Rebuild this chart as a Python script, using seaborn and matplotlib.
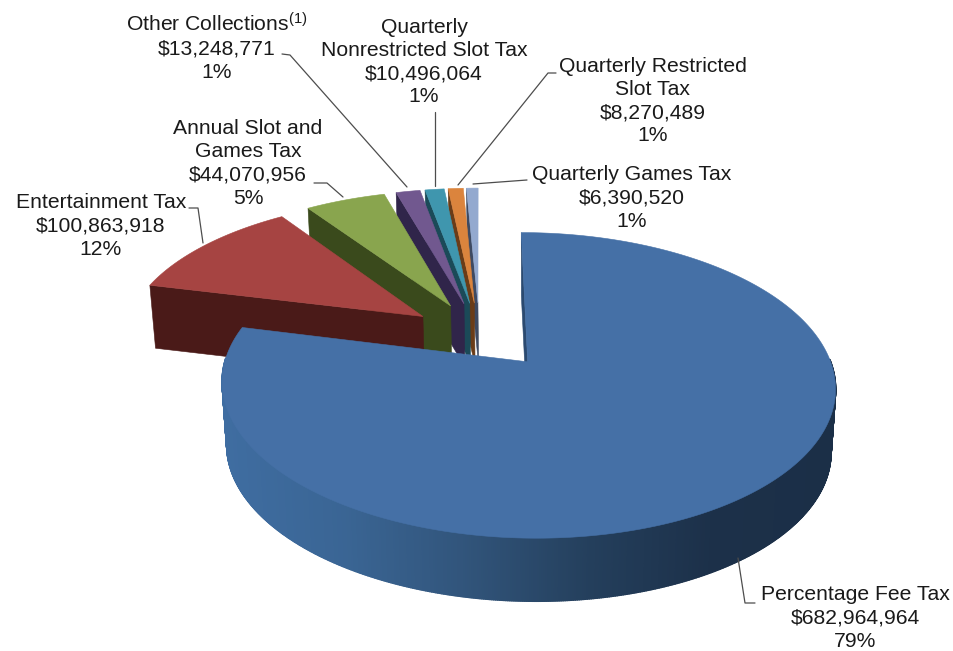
import numpy as np
import matplotlib
matplotlib.use("Agg")
import matplotlib.pyplot as plt
from matplotlib.patches import Polygon
from matplotlib.collections import PolyCollection
import seaborn as sns

# Gaming tax collections by category, in dollars, clockwise from twelve o'clock
categories = ["Percentage Fee Tax", "Entertainment Tax", "Annual Slot and\nGames Tax",
              "Other Collections$^{(1)}$", "Quarterly\nNonrestricted Slot Tax",
              "Quarterly Restricted\nSlot Tax", "Quarterly Games Tax"]
collections = [682964964, 100863918, 44070956, 13248771, 10496064, 8270489, 6390520]
percent_labels = ["79%", "12%", "5%", "1%", "1%", "1%", "1%"]

top_colors = ["#4570a6", "#a64442", "#89a54e", "#71588f", "#3f96ae", "#db843d", "#93a9cf"]
wall_colors = ["#2b4a70", "#4a1a18", "#3a4a1c", "#30254a", "#1b4a58", "#6a3c18", "#3e4a62"]

# Camera model for the tilted disc: centre, radii, perspective strength, rim depth
CX, CY, RX, RY, K, DEPTH = 479.5, 335.0, 299.0, 141.0, 0.15, 63.0
EXPLODE = 0.235
# The lower rim sits farther from the camera, so it narrows slightly about this axis
BASE_NARROWING, BASE_AXIS = 0.985, 528.0
# Horizontal offset and width of each slice relative to the camera radius
explode_u = [0.254, 0.235, 0.235, 0.235, 0.235, 0.235, 0.235]
width_u = [0.985, 1, 1, 1, 1, 1, 1]

sns.set_theme(style="white")
plt.rcParams["font.family"] = ["Liberation Sans", "DejaVu Sans"]
plt.rcParams["mathtext.fontset"] = "custom"
plt.rcParams["mathtext.rm"] = "Liberation Sans"
plt.rcParams["mathtext.default"] = "regular"

fig, ax = plt.subplots(figsize=(9.54, 6.51), dpi=100)
ax.set_position([0, 0, 1, 1])
ax.set_xlim(0, 954)
ax.set_ylim(651, 0)
ax.axis("off")


def project(u, v, lower=False):
    """Map disc coordinates (v towards the back) to canvas coordinates."""
    w = 1 + K * v
    x = CX + RX * u / w
    y = CY - RY * v / w
    if lower:
        x = BASE_AXIS + (x - BASE_AXIS) * BASE_NARROWING
        y = y + DEPTH
    return np.column_stack([x, y])


shares = np.array(collections) / sum(collections) * 360
ends = np.cumsum(shares)
starts = ends - shares
front_shade = sns.blend_palette(["#3f6da1", "#3a6594", "#31547a", "#243f5c", "#1c3049", "#1b2f47"], 256)

# Paint from the back of the stack to the front, so the large slice goes last
for i in range(len(collections) - 1, -1, -1):
    a0, a1 = np.radians(starts[i]), np.radians(ends[i])
    mid = (a0 + a1) / 2
    ou, ov = explode_u[i] * np.sin(mid), EXPLODE * np.cos(mid)
    ang = np.linspace(a0, a1, max(int(shares[i] * 3), 6))
    u, v = ou + width_u[i] * np.sin(ang), ov + np.cos(ang)
    rim_top = project(u, v)
    rim_low = project(u, v, lower=True)
    apex_top = project(np.array([ou]), np.array([ov]))
    apex_low = project(np.array([ou]), np.array([ov]), lower=True)

    # Radial wall on the leading edge of the slice
    ax.add_patch(Polygon(np.vstack([apex_top, rim_top[:1], rim_low[:1], apex_low]),
                         closed=True, fc=wall_colors[i], ec=wall_colors[i], lw=0.4, zorder=2 + (6 - i) * 3))

    # Outer rim, front half only, shaded facet by facet along its sweep
    facets, shades = [], []
    for j in range(len(ang) - 1):
        if np.cos(ang[j]) > 0.02:
            continue
        facets.append(np.vstack([rim_top[j], rim_top[j + 1], rim_low[j + 1], rim_low[j]]))
        s = np.clip((rim_top[j, 0] - 221) / (836 - 221), 0, 1)
        shades.append(front_shade[int(s * 255)])
    if facets:
        ax.add_collection(PolyCollection(facets, facecolors=shades, edgecolors=shades, linewidths=1.2,
                                         zorder=3 + (6 - i) * 3))

    ax.add_patch(Polygon(np.vstack([apex_top, rim_top]), closed=True, fc=top_colors[i],
                         ec=top_colors[i], lw=0.4, zorder=4 + (6 - i) * 3))

# Label blocks: category, dollars and share, stacked and centred
label_anchor = [(855, 618), (101, 226), (248, 163.5), (217, 47), (424, 62), (653, 101), (632, 198)]
for name, amount, pct, (x, y) in zip(categories, collections, percent_labels, label_anchor):
    ax.text(x, y, f"{name}\n\\${amount:,}\n{pct}", ha="center", va="center", fontsize=15.2,
            color="#1a1a1a", linespacing=1.27, zorder=40)

# Leader lines between labels and slices
leaders = [[(738, 558), (745, 603), (755, 603)],
           [(203, 243), (198, 208), (189, 208)],
           [(343, 197), (327, 183), (314, 183)],
           [(407, 187), (290, 55), (282, 54)],
           [(435, 186), (435, 112)],
           [(458, 185), (548, 73), (556, 73)],
           [(473, 184), (527, 180)]]
for path in leaders:
    xs, ys = zip(*path)
    ax.plot(xs, ys, color="#4d4d4d", lw=0.9, zorder=39)

fig.savefig("out.png", dpi=100, facecolor="white")
